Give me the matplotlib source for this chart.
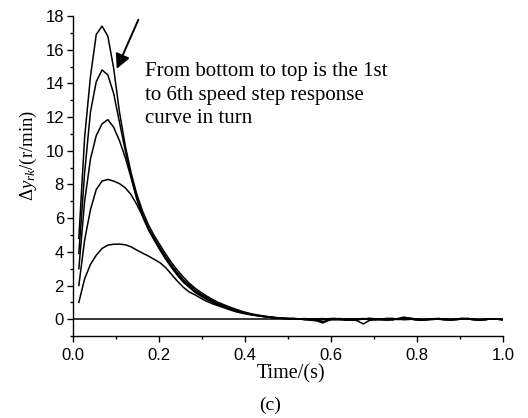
import numpy as np
import matplotlib
matplotlib.use("Agg")
import matplotlib.pyplot as plt
from matplotlib.ticker import MultipleLocator, FormatStrFormatter

plt.rcParams['mathtext.fontset'] = 'custom'
plt.rcParams['mathtext.rm'] = 'Liberation Serif'
plt.rcParams['mathtext.it'] = 'Liberation Serif:italic'

SERIF = 'Liberation Serif'
SANS = 'Liberation Sans'

# sampling instants (s)
time = [0.0135, 0.027, 0.0405, 0.054, 0.0675, 0.081, 0.0945, 0.108, 0.1215, 0.135,
        0.1485, 0.162, 0.1755, 0.189, 0.2025, 0.216, 0.2295, 0.243, 0.2565, 0.27,
        0.2835, 0.297, 0.3105, 0.324, 0.3375, 0.351, 0.3645, 0.378, 0.3915, 0.405,
        0.4185, 0.432, 0.4455, 0.459, 0.4725, 0.486, 0.4995, 0.513, 0.5265, 0.54,
        0.5535, 0.567, 0.5805, 0.594, 0.6075, 0.621, 0.6345, 0.648, 0.6615, 0.675,
        0.6885, 0.702, 0.7155, 0.729, 0.7425, 0.756, 0.7695, 0.783, 0.7965, 0.81,
        0.8235, 0.837, 0.8505, 0.864, 0.8775, 0.891, 0.9045, 0.918, 0.9315, 0.945,
        0.9585, 0.972, 0.9855, 0.999]

# speed step responses, 1st (bottom) to top
step1 = [1.0, 2.4, 3.25, 3.8, 4.2, 4.4, 4.45, 4.46, 4.42, 4.3,
         4.1, 3.92, 3.75, 3.55, 3.35, 3.05, 2.65, 2.25, 1.9, 1.62,
         1.45, 1.25, 1.07, 0.92, 0.8, 0.68, 0.56, 0.45, 0.37, 0.3,
         0.24, 0.19, 0.15, 0.11, 0.08,
         0.06, 0.04, 0.05, 0.02, 0.0, 0.03, -0.02, -0.15, -0.04, 0.03,
         0.0, -0.04, -0.02, 0.02, 0.04, 0.01, -0.03, -0.02, 0.03, 0.05,
         0.0, -0.03, -0.01, 0.02, 0.0, -0.04, -0.02, 0.03, 0.01, -0.02,
         -0.03, 0.01, 0.04, 0.0, -0.03, -0.02, 0.02, 0.01, -0.02]
step2 = [2.0, 4.7, 6.5, 7.7, 8.2, 8.3, 8.2, 8.05, 7.8, 7.4,
         6.8, 6.1, 5.35, 4.7, 4.1, 3.55, 3.05, 2.6, 2.2, 1.9,
         1.6, 1.38, 1.18, 1.0, 0.86, 0.72, 0.6, 0.5, 0.4, 0.32,
         0.26, 0.2, 0.15, 0.11, 0.08,
         0.06, 0.05, 0.03, 0.02, 0.04, 0.0, -0.03, -0.01, 0.03, 0.01,
         -0.03, -0.05, -0.01, 0.03, 0.02, -0.02, -0.04, 0.0, 0.05, 0.03,
         -0.02, 0.04, 0.08, 0.01, -0.03, -0.01, 0.02, 0.04, 0.0, -0.03,
         -0.01, 0.03, 0.02, -0.02, -0.03, 0.0, 0.03, 0.02, -0.01]
step3 = [3.0, 7.0, 9.5, 10.9, 11.6, 11.85, 11.4, 10.6, 9.6, 8.4,
         7.1, 6.1, 5.3, 4.7, 4.15, 3.6, 3.1, 2.65, 2.25, 1.95,
         1.65, 1.42, 1.22, 1.04, 0.9, 0.76, 0.64, 0.52, 0.42, 0.34,
         0.27, 0.2, 0.16, 0.11, 0.08,
         0.05, 0.02, 0.04, 0.01, -0.03, -0.02, 0.02, 0.04, 0.0, -0.04,
         -0.02, 0.03, 0.01, -0.1, -0.28, -0.08, 0.0, 0.03, -0.02, -0.05,
         0.02, 0.05, 0.01, -0.03, -0.05, -0.01, 0.03, 0.04, 0.0, -0.04,
         -0.02, 0.03, 0.05, 0.0, -0.04, -0.03, 0.02, 0.0, -0.02]
step4 = [3.9, 8.7, 12.3, 14.1, 14.8, 14.5, 13.4, 11.7, 10.0, 8.5,
         7.2, 6.2, 5.4, 4.8, 4.25, 3.7, 3.2, 2.75, 2.35, 2.05,
         1.75, 1.5, 1.3, 1.1, 0.95, 0.8, 0.68, 0.56, 0.45, 0.36,
         0.28, 0.22, 0.17, 0.12, 0.09,
         0.05, 0.03, 0.01, 0.02, -0.02, -0.06, -0.1, -0.22, -0.08, 0.02,
         0.04, 0.0, -0.05, -0.03, 0.02, 0.05, 0.03, -0.02, -0.04, 0.0,
         0.04, 0.13, 0.03, -0.03, -0.06, -0.02, 0.03, 0.02, -0.04, -0.05,
         0.01, 0.05, 0.02, -0.03, -0.05, -0.02, 0.03, 0.01, -0.03]
step5 = [4.8, 10.8, 14.4, 16.9, 17.4, 16.8, 14.9, 12.3, 10.3, 8.7,
         7.4, 6.4, 5.6, 4.95, 4.4, 3.85, 3.35, 2.9, 2.5, 2.15,
         1.85, 1.6, 1.38, 1.18, 1.0, 0.86, 0.72, 0.6, 0.48, 0.38,
         0.3, 0.24, 0.18, 0.14, 0.1,
         0.06, 0.04, 0.03, 0.01, 0.0, -0.03, -0.05, -0.02, 0.03, 0.05,
         0.02, -0.04, -0.06, -0.02, 0.01, 0.04, 0.02, -0.03, -0.05, -0.01,
         0.03, 0.06, 0.02, -0.02, -0.04, -0.01, 0.02, 0.0, -0.03, -0.02,
         0.02, 0.04, 0.01, -0.02, -0.04, -0.01, 0.02, 0.0, -0.02]

curves = [step1, step2, step3, step4, step5]
note = "From bottom to top is the 1st\nto 6th speed step response\ncurve in turn"

fig = plt.figure(figsize=(5.28, 4.18), dpi=100)
ax = fig.add_axes([0.1383, 0.196, 0.8144, 0.7657])

ax.axhline(0, color='black', lw=1.1)
for c in curves:
    ax.plot(time, c, color='black', lw=1.1)

ax.set_xlim(0, 1.0)
ax.set_ylim(-1, 18)
ax.xaxis.set_major_locator(MultipleLocator(0.2))
ax.xaxis.set_minor_locator(MultipleLocator(0.1))
ax.yaxis.set_minor_locator(MultipleLocator(1))
ax.set_yticks(np.arange(0, 19, 2))
ax.spines['top'].set_visible(False)
ax.spines['right'].set_visible(False)
for s in ['left', 'bottom']:
    ax.spines[s].set_linewidth(1.0)
ax.tick_params(which='major', direction='out', length=4.5, width=1.0,
               labelsize=12, pad=2)
ax.tick_params(axis='x', which='major', pad=4)
ax.tick_params(which='minor', direction='out', length=2.5, width=1.0)
ax.xaxis.set_major_formatter(FormatStrFormatter('%.1f'))
for lab in ax.get_xticklabels() + ax.get_yticklabels():
    lab.set_fontfamily(SANS)

ax.annotate('', xy=(0.1015, 14.86), xytext=(0.152, 17.78),
            arrowprops=dict(arrowstyle='-|>', color='black', lw=1.4,
                            mutation_scale=22, shrinkA=0, shrinkB=0))
ax.text(0.1674, 15.25, note, family=SERIF, fontsize=15, va='top', ha='left',
        linespacing=1.3)

fig.text(28 / 528, 1 - 155 / 418, r'$\Delta y_{rk}$/(r/min)', family=SERIF,
         fontsize=13.5, rotation=90, ha='center', va='center')
fig.text(291 / 528, 1 - 374 / 418, 'Time/(s)', family=SERIF, fontsize=14.5,
         ha='center', va='center')
fig.text(270 / 528, 1 - 405 / 418, '(c)', family=SERIF, fontsize=14,
         ha='center', va='center')

fig.savefig('out.png', dpi=100)
